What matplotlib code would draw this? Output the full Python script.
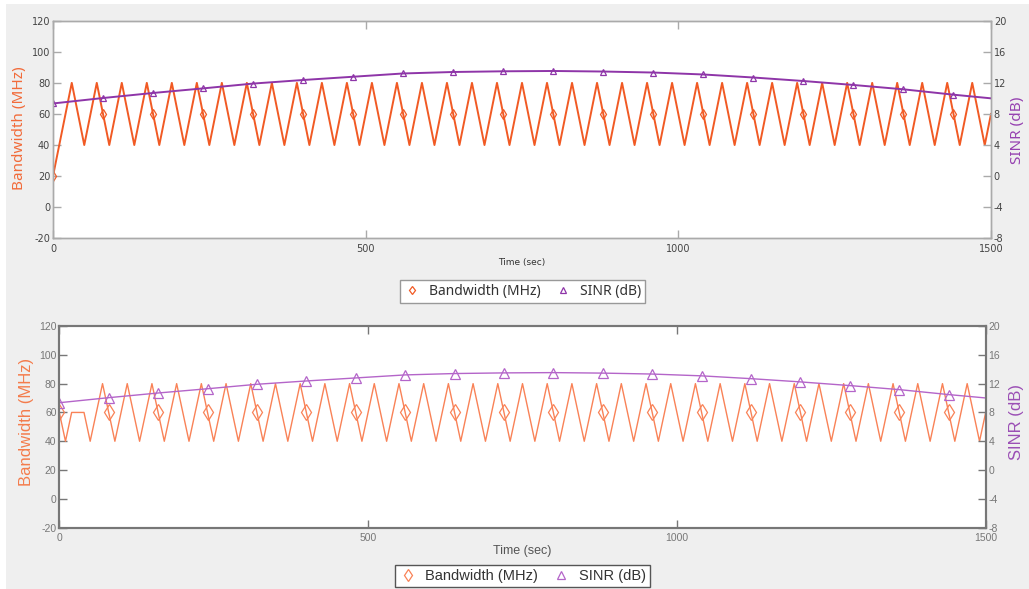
import matplotlib
matplotlib.use("Agg")
import matplotlib.pyplot as plt
import matplotlib.patches as patches
from matplotlib.lines import Line2D
import numpy as np

plt.rcParams["axes.unicode_minus"] = False

# Bandwidth samples every 10 s, 0..1500 s
bw_time = np.arange(0, 1501, 10)
bw_top = [20, 40, 60, 80,
          60, 40, 60, 80, 60, 40, 60, 80, 60, 40, 60, 80,
          60, 40, 60, 80, 60, 40, 60, 80, 60, 40, 60, 80,
          60, 40, 60, 80, 60, 40, 60, 80, 60, 40, 60, 80,
          60, 40, 60, 80, 60, 40, 60, 80, 60, 40, 60, 80,
          60, 40, 60, 80, 60, 40, 60, 80, 60, 40, 60, 80,
          60, 40, 60, 80, 60, 40, 60, 80, 60, 40, 60, 80,
          60, 40, 60, 80, 60, 40, 60, 80, 60, 40, 60, 80,
          60, 40, 60, 80, 60, 40, 60, 80, 60, 40, 60, 80,
          60, 40, 60, 80, 60, 40, 60, 80, 60, 40, 60, 80,
          60, 40, 60, 80, 60, 40, 60, 80, 60, 40, 60, 80,
          60, 40, 60, 80, 60, 40, 60, 80, 60, 40, 60, 80,
          60, 40, 60, 80, 60, 40, 60, 80, 60, 40, 60, 80,
          60, 40, 60]
bw_bottom = [60, 40, 60, 60,
             60, 40, 60, 80, 60, 40, 60, 80, 60, 40, 60, 80,
             60, 40, 60, 80, 60, 40, 60, 80, 60, 40, 60, 80,
             60, 40, 60, 80, 60, 40, 60, 80, 60, 40, 60, 80,
             60, 40, 60, 80, 60, 40, 60, 80, 60, 40, 60, 80,
             60, 40, 60, 80, 60, 40, 60, 80, 60, 40, 60, 80,
             60, 40, 60, 80, 60, 40, 60, 80, 60, 40, 60, 80,
             60, 40, 60, 80, 60, 40, 60, 80, 60, 40, 60, 80,
             60, 40, 60, 80, 60, 40, 60, 80, 60, 40, 60, 80,
             60, 40, 60, 80, 60, 40, 60, 80, 60, 40, 60, 80,
             60, 40, 60, 80, 60, 40, 60, 80, 60, 40, 60, 80,
             60, 40, 60, 80, 60, 40, 60, 80, 60, 40, 60, 80,
             60, 40, 60, 80, 60, 40, 60, 80, 60, 40, 60, 80,
             60, 40, 60]

# SINR (dB) every 80 s plus the end point
sinr_time = [0, 80, 160, 240, 320, 400, 480, 560, 640, 720,
             800, 880, 960, 1040, 1120, 1200, 1280, 1360, 1440, 1500]
sinr = [9.35, 10.05, 10.70, 11.29, 11.91, 12.37, 12.79, 13.21, 13.40, 13.49,
        13.53, 13.46, 13.33, 13.08, 12.69, 12.24, 11.73, 11.17, 10.48, 10.01]

bw_ticks = [-20, 0, 20, 40, 60, 80, 100, 120]
sinr_ticks = [-8, -4, 0, 4, 8, 12, 16, 20]
time_ticks = [0, 500, 1000, 1500]

W, H = 1029, 589
fig = plt.figure(figsize=(W / 100, H / 100), dpi=100, facecolor="#efefef")
# thin white border on the left and top
fig.patches.append(patches.Rectangle((0, 0), 6 / W, 1, transform=fig.transFigure,
                                     facecolor="white", edgecolor="none"))
fig.patches.append(patches.Rectangle((0, 1 - 4 / H), 1, 4 / H, transform=fig.transFigure,
                                     facecolor="white", edgecolor="none"))


def panel(rect, bw, style):
    ax = fig.add_axes(rect)
    ax2 = ax.twinx()
    ax.plot(bw_time, bw, color=style["orange"], lw=style["lw"], marker="d",
            markevery=8, ms=style["ms_d"], mfc="none", mec=style["orange"], mew=style["mew"])
    ax2.plot(sinr_time, sinr, color=style["purple"], lw=style["lw"], marker="^",
             markevery=list(range(len(sinr_time) - 1)), ms=style["ms_t"], mfc="none",
             mec=style["purple"], mew=style["mew"])
    ax.set_xlim(0, 1500)
    ax.set_ylim(-20, 120)
    ax2.set_ylim(-8, 20)
    ax.set_xticks(time_ticks)
    ax.set_yticks(bw_ticks)
    ax2.set_yticks(sinr_ticks)
    for a in (ax, ax2):
        for s in a.spines.values():
            s.set_color(style["spine"])
            s.set_linewidth(style["spine_lw"])
        a.tick_params(direction="in", length=style["tick_len"], width=1,
                      color=style["spine"], labelsize=style["tick_fs"],
                      labelcolor=style["tick_col"], pad=2)
        for lab in a.get_xticklabels() + a.get_yticklabels():
            lab.set_family(style["font"])
    ax.tick_params(axis="x", top=True, pad=4)
    ax.set_facecolor("white")
    return ax, ax2


top_style = dict(orange="#f15a24", purple="#8e35a8", lw=1.4, ms_d=5.5, ms_t=5, mew=0.9,
                 spine="#aaaaaa", spine_lw=1.0, tick_len=6, tick_fs=7,
                 tick_col="#444444", font="DejaVu Sans")
bot_style = dict(orange="#f98257", purple="#b465c9", lw=1.0, ms_d=8, ms_t=7, mew=0.9,
                 spine="#777777", spine_lw=1.5, tick_len=6, tick_fs=7.5,
                 tick_col="#777777", font="Liberation Sans")

panel([53 / W, 1 - 238.3 / H, 938 / W, 217.6 / H], bw_top, top_style)
panel([59.3 / W, 1 - 527.7 / H, 926.4 / W, 201.7 / H], bw_bottom, bot_style)

# axis titles
fig.text(522 / W, 1 - 262 / H, "Time (sec)", ha="center", va="center",
         fontsize=6.5, color="#333333", family="DejaVu Sans")
fig.text(20 / W, 1 - 128 / H, "Bandwidth (MHz)", rotation=90, ha="center", va="center",
         fontsize=11, color="#f26b3a", family="Noto Sans")
fig.text(1017 / W, 1 - 130 / H, "SINR (dB)", rotation=90, ha="center", va="center",
         fontsize=11, color="#9540b0", family="Noto Sans")

fig.text(522 / W, 1 - 551 / H, "Time (sec)", ha="center", va="center",
         fontsize=9, color="#555555", family="Liberation Sans")
fig.text(27 / W, 1 - 422 / H, "Bandwidth (MHz)", rotation=90, ha="center", va="center",
         fontsize=12, color="#f47c4c", family="Liberation Sans")
fig.text(1017 / W, 1 - 422 / H, "SINR (dB)", rotation=90, ha="center", va="center",
         fontsize=12, color="#9b4fb5", family="Liberation Sans")


# legends
def legend(center_y, style, family, fs, edge):
    handles = [Line2D([], [], ls="none", marker="d", ms=style["ms_d"] * 0.8, mfc="none",
                      mec=style["orange"], mew=0.9),
               Line2D([], [], ls="none", marker="^", ms=style["ms_t"] * 0.75, mfc="none",
                      mec=style["purple"], mew=0.9)]
    leg = fig.legend(handles, ["Bandwidth (MHz)", "SINR (dB)"], loc="center",
                     bbox_to_anchor=(522.5 / W, center_y), ncol=2, frameon=True,
                     fancybox=False, framealpha=1, edgecolor=edge,
                     handlelength=1.2, handletextpad=0.6, columnspacing=1.0,
                     borderpad=0.3, prop=dict(family=family, size=fs))
    leg.get_frame().set_linewidth(1.0)
    for t in leg.get_texts():
        t.set_color("#333333")


legend(1 - 291.5 / H, top_style, "Noto Sans", 10, "#999999")
legend(1 - 576 / H, bot_style, "Liberation Sans", 10.5, "#555555")

fig.savefig("out.png", dpi=100, facecolor=fig.get_facecolor())
